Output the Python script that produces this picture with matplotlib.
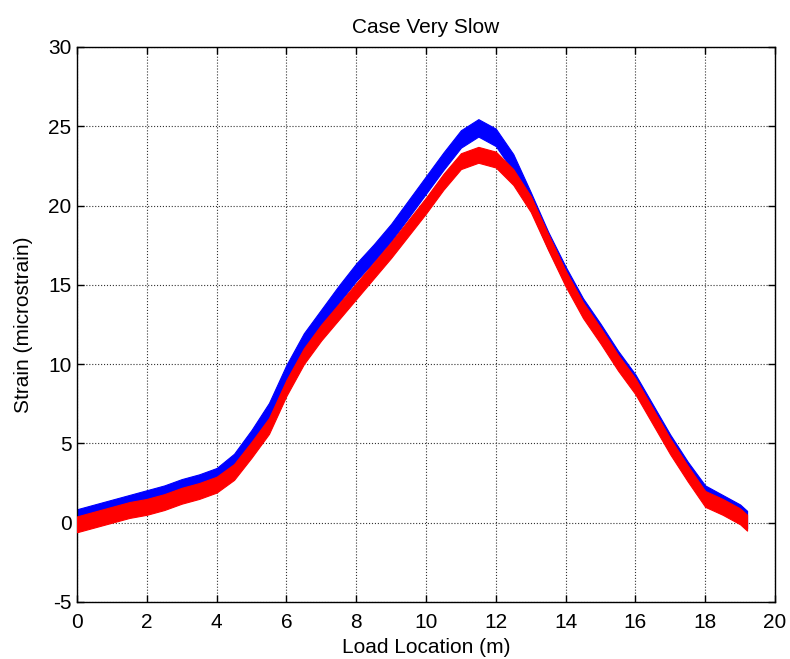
import matplotlib
matplotlib.use("Agg")
import matplotlib.pyplot as plt
import numpy as np

plt.rcParams['font.family'] = ['Liberation Sans', 'DejaVu Sans']
plt.rcParams['axes.unicode_minus'] = False

# Data (band centre lines)
x_pos = [0, 0.5, 1, 1.5, 2, 2.5, 3, 3.5, 4, 4.5, 5, 5.5, 6, 6.5, 7, 7.5, 8, 8.5,
         9, 9.5, 10, 10.5, 11, 11.5, 12, 12.5, 13, 13.5, 14, 14.5, 15, 15.5,
         16, 16.5, 17, 17.5, 18, 18.5, 19, 19.2]
blue_strain = [0.3, 0.6, 0.9, 1.2, 1.5, 1.8, 2.2, 2.5, 2.9, 3.8, 5.3, 7.0, 9.4, 11.4,
               12.9, 14.4, 15.8, 17.0, 18.3, 19.8, 21.3, 22.8, 24.2, 24.9, 24.3,
               22.7, 20.3, 17.8, 15.6, 13.6, 12.0, 10.3, 8.8, 6.9, 5.0, 3.3, 1.8,
               1.2, 0.6, 0.2]
red_strain = [-0.1, 0.2, 0.5, 0.8, 1.0, 1.3, 1.7, 2.0, 2.4, 3.2, 4.6, 6.1, 8.5, 10.5,
              12.0, 13.3, 14.6, 15.9, 17.2, 18.6, 20.0, 21.5, 22.8, 23.2, 22.9,
              21.8, 20.1, 17.7, 15.4, 13.4, 11.8, 10.1, 8.6, 6.7, 4.8, 3.1, 1.5,
              1.0, 0.4, 0.0]

x_ticks = list(range(0, 21, 2))
y_ticks = list(range(-5, 31, 5))

blue_hw = 0.55
red_hw = 0.5

fig = plt.figure(figsize=(7.9, 6.59), dpi=100)
ax = fig.add_axes([0.0975, 0.0865, 0.8835, 0.8422])

xb = np.array(x_pos)
b = np.array(blue_strain)
r = np.array(red_strain)

ax.fill_between(xb, b - blue_hw, b + blue_hw, color=(0, 0, 1), linewidth=0.8,
                edgecolor=(0, 0, 1), zorder=2)
ax.fill_between(xb, r - red_hw, r + red_hw, color=(1, 0, 0), linewidth=0.8,
                edgecolor=(1, 0, 0), zorder=3)

ax.set_xlim(0, 20)
ax.set_ylim(-5, 30)
ax.set_xticks(x_ticks)
ax.set_yticks(y_ticks)
ax.grid(True, color='#333333', linestyle=':', linewidth=0.8, zorder=1)
ax.set_axisbelow(True)
ax.tick_params(direction='in', top=True, right=True, length=5, width=1,
               labelsize=15)
ax.tick_params(axis='x', pad=8)
ax.tick_params(axis='y', pad=4)
for s in ax.spines.values():
    s.set_linewidth(1.0)

ax.set_title('Case Very Slow', fontsize=15, pad=10)
ax.set_xlabel('Load Location (m)', fontsize=15, labelpad=4)
ax.set_ylabel('Strain (microstrain)', fontsize=15, labelpad=11)

fig.savefig('out.png', dpi=100)
